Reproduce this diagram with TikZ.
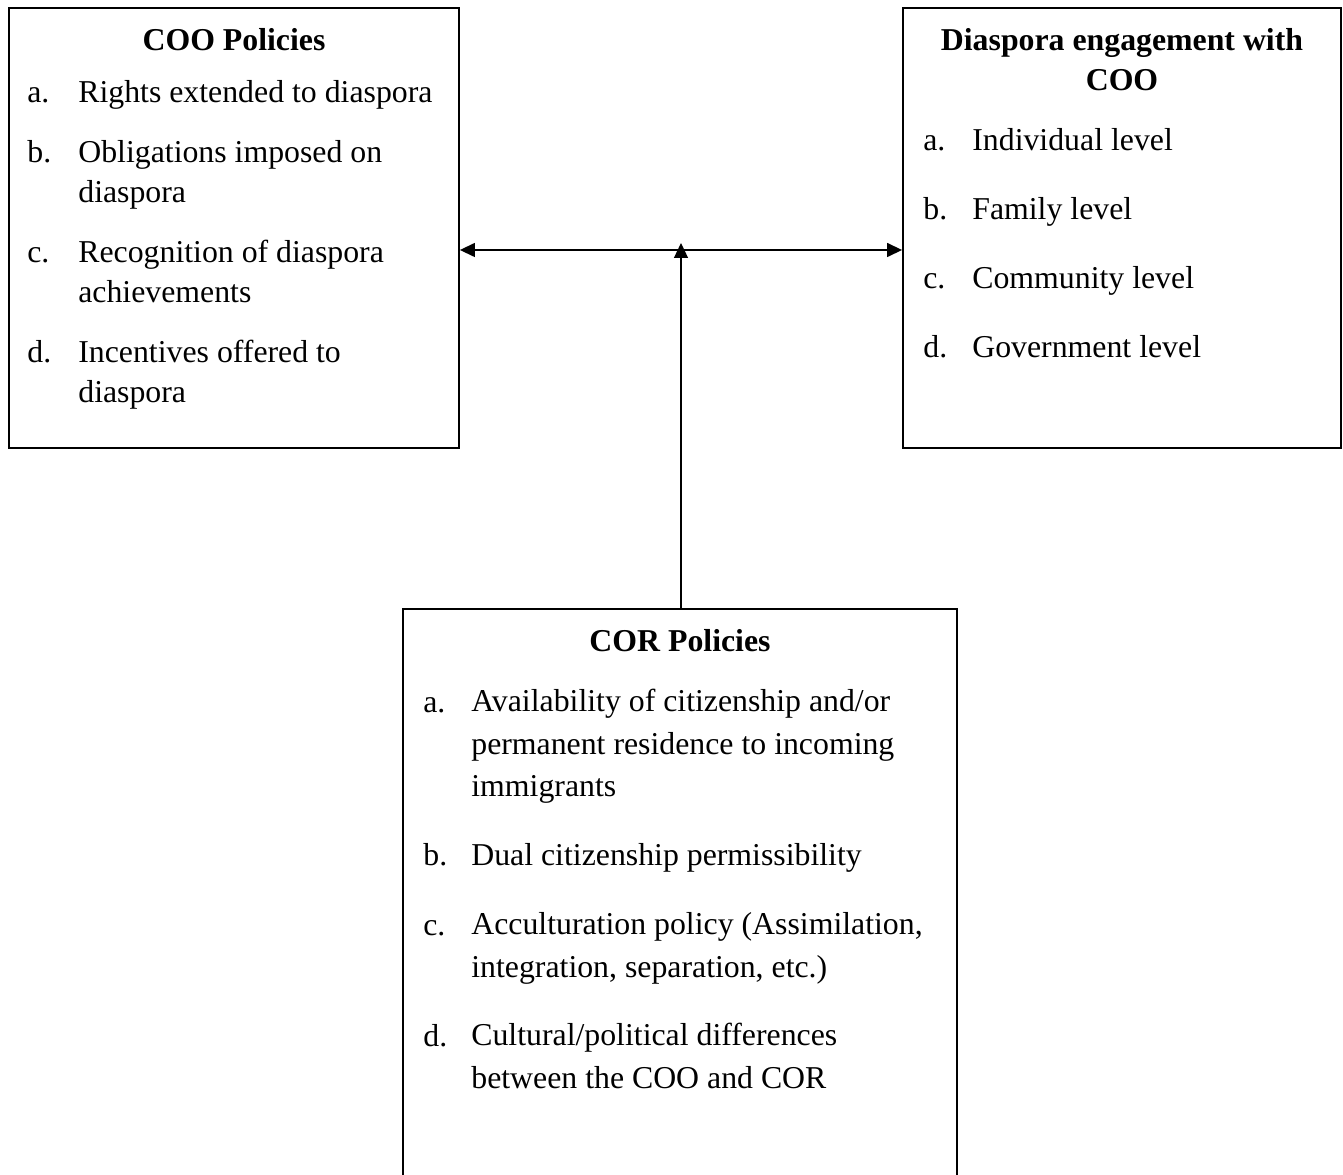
\documentclass[tikz,border=0pt]{standalone}
\usepackage{fontspec}
\setmainfont{Liberation Serif}
\usetikzlibrary{arrows.meta}
\newcommand{\boxfont}{\fontsize{18.1pt}{23.3pt}\selectfont}

\begin{document}
\begin{tikzpicture}[x=0.02cm, y=-0.02cm, font=\boxfont,
  >={Triangle[length=0.3cm, width=0.28cm]},
  box/.style={draw, line width=1.1pt, inner sep=0pt},
  head/.style={font=\boxfont\bfseries, align=center, anchor=base, inner sep=0pt},
  lbl/.style={anchor=base west, inner sep=0pt},
  txt/.style={anchor=base west, inner sep=0pt, align=left}]
\useasboundingbox (0,0) rectangle (1343,1175);
% left box: policies of the country of origin
% (multi-line texts sit on the baseline of their last line)
\node[box, minimum width=9cm, minimum height=8.8cm] (coo) at (234,228) {};
\node[head] (coo-head) at (234,51) {COO Policies};
\foreach \k/\t/\y/\z in {a/{Rights extended to diaspora}/103/103, b/{Obligations imposed on\\diaspora}/163/203,
  c/{Recognition of diaspora\\achievements}/263/303, d/{Incentives offered to\\diaspora}/363/403} {
  \node[lbl] (coo-l\k) at (27,\y) {\k.};
  \node[txt] (coo-\k) at (78,\z) {\t};
}
% right box: engagement levels
\node[box, minimum width=8.76cm, minimum height=8.8cm] (eng) at (1122,228) {};
\node[head] (eng-head) at (1122,91) {Diaspora engagement with\\COO};
\foreach \k/\t/\y in {a/Individual level/151, b/Family level/220, c/Community level/289, d/Government level/358} {
  \node[lbl] (eng-l\k) at (923,\y) {\k.};
  \node[txt] (eng-\k) at (972,\y) {\t};
}
% bottom box: policies of the country of residence (runs off the page)
\node[box, minimum width=11.08cm, minimum height=12.12cm] (cor) at (680,912) {};
\node[head] (cor-head) at (680,652) {COR Policies};
\foreach \k/\t/\y/\z in {a/{Availability of citizenship and/or\\permanent residence to incoming\\immigrants}/713/797,
  b/{Dual citizenship permissibility}/866/866, c/{Acculturation policy (Assimilation,\\integration, separation, etc.)}/935/977,
  d/{Cultural/political differences\\between the COO and COR}/1046/1088} {
  \node[lbl] (cor-l\k) at (423,\y) {\k.};
  \node[txt, font=\fontsize{18.1pt}{24.2pt}\selectfont] (cor-\k) at (471,\z) {\t};
}
% connectors
\coordinate (tee) at (681,250);
\coordinate (top) at (681,243);
\draw[line width=0.8pt, <->] (coo.east |- tee) -- (eng.west |- tee);
\draw[line width=0.7pt, ->] (cor.north -| top) -- (top);
\end{tikzpicture}
\end{document}
